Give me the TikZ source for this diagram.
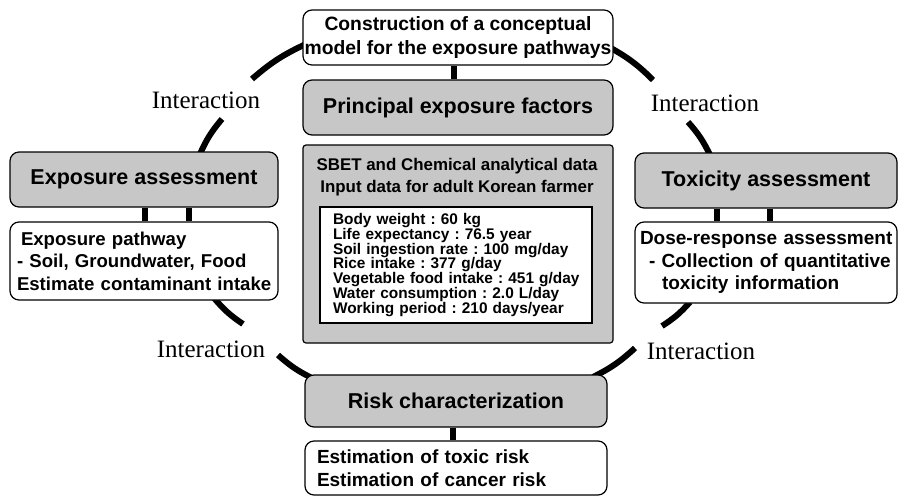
\documentclass[tikz,border=0pt]{standalone}
\usepackage{fontspec}
\setmainfont{Liberation Sans}
\newfontfamily\interfont{Liberation Serif}
\usetikzlibrary{calc}
\frenchspacing
\begin{document}
\begin{tikzpicture}[x=1pt,y=-1pt,
  box/.style={draw=black, line width=1.2pt, rounded corners=9pt, fill=white, inner sep=0pt},
  graybox/.style={box, fill=black!22},
  ttl/.style={font=\fontsize{21.5}{25}\selectfont\bfseries},
  body/.style={font=\fontsize{19}{22.5}\selectfont\bfseries},
  ring/.style={line width=6pt},
  link/.style={line width=6pt},
  inter/.style={font=\interfont\fontsize{25}{28}\selectfont, inner sep=0pt}]
\useasboundingbox (0,0) rectangle (899,496);

% ring segments
\coordinate (r1a) at (306,44);  \coordinate (r1b) at (252,79);
\coordinate (r2a) at (222,119); \coordinate (r2b) at (200,154);
\coordinate (r3a) at (214,298); \coordinate (r3b) at (243,324);
\coordinate (r4a) at (278,355); \coordinate (r4b) at (314,379);
\coordinate (r5a) at (593,377); \coordinate (r5b) at (635,348);
\coordinate (r6a) at (662,326); \coordinate (r6b) at (690,302);
\coordinate (r7a) at (710,155); \coordinate (r7b) at (688,122);
\coordinate (r8a) at (653,80);  \coordinate (r8b) at (609,47);
\draw[ring] (r1a) to[bend right=8] (r1b);
\draw[ring] (r2a) to[bend right=8] (r2b);
\draw[ring] (r3a) to[bend right=8] (r3b);
\draw[ring] (r4a) to[bend right=8] (r4b);
\draw[ring] (r5a) to[bend right=8] (r5b);
\draw[ring] (r6a) to[bend right=8] (r6b);
\draw[ring] (r7a) to[bend right=8] (r7b);
\draw[ring] (r8a) to[bend right=8] (r8b);

% centre column
\node[box, minimum width=310pt, minimum height=55pt, align=center,
      font=\fontsize{19.3}{23.5}\selectfont\bfseries] (model) at (458,37.5)
  {Construction of a conceptual\\model for the exposure pathways};
\node[graybox, minimum width=310pt, minimum height=55pt, ttl] (factors) at (458,107.5)
  {Principal exposure factors};
\node[graybox, rounded corners=3pt, minimum width=310pt, minimum height=198pt] (sbet) at (458,244) {};
\node[inner sep=0pt, align=center, font=\fontsize{16.9}{22}\selectfont\bfseries] (sbettxt) at (457,177)
  {SBET and Chemical analytical data\\Input data for adult Korean farmer};
\node[draw=black, line width=1.2pt, fill=white, inner sep=0pt, minimum width=272pt, minimum height=116pt,
      text width=266pt, align=left, font=\fontsize{15.4}{14.8}\selectfont\bfseries] (data) at (456,265)
  {\hspace*{10pt}Body weight : 60 kg\\
   \hspace*{10pt}Life expectancy : 76.5 year\\
   \hspace*{10pt}Soil ingestion rate : 100 mg/day\\
   \hspace*{10pt}Rice intake : 377 g/day\\
   \hspace*{10pt}\mbox{Vegetable food intake : 451 g/day}\\
   \hspace*{10pt}Water consumption : 2.0 L/day\\
   \hspace*{10pt}Working period : 210 days/year};

% left column
\node[graybox, minimum width=268pt, minimum height=55pt, ttl] (expo) at (144,179.5)
  {Exposure assessment};
\node[box, minimum width=268pt, minimum height=78pt, text width=266pt, align=left,
      font=\fontsize{18.6}{22.5}\selectfont\bfseries] (expolow) at (144,261)
  {\hspace*{10pt}Exposure pathway\\
   \hspace*{6pt}- Soil, Groundwater, Food\\
   \hspace*{6pt}\mbox{Estimate contaminant intake}};

% right column
\node[graybox, minimum width=262pt, minimum height=55pt, ttl] (tox) at (766,180.5)
  {Toxicity assessment};
\node[box, minimum width=262pt, minimum height=81pt, text width=256pt, align=left, body] (toxlow) at (766,262.5)
  {\hspace*{2pt}Dose-response assessment\\
   \hspace*{11pt}- Collection of quantitative\\
   \hspace*{24pt}toxicity information};

% bottom column
\node[graybox, minimum width=302pt, minimum height=52pt, ttl] (risk) at (456,401)
  {Risk characterization};
\node[box, minimum width=302pt, minimum height=54pt, text width=278pt, align=left, body] (risklow) at (456,468)
  {Estimation of toxic risk\\Estimation of cancer risk};

% short links between paired boxes
\draw[link] ([xshift=-4pt]model.south) -- ([xshift=-4pt]model.south |- factors.north);
\draw[link] ([xshift=1pt]expo.south) -- ([xshift=1pt]expo.south |- expolow.north);
\draw[link] ([xshift=45pt]expo.south) -- ([xshift=45pt]expo.south |- expolow.north);
\draw[link] ([xshift=-49pt]tox.south) -- ([xshift=-49pt]tox.south |- toxlow.north);
\draw[link] ([xshift=4pt]tox.south) -- ([xshift=4pt]tox.south |- toxlow.north);
\draw[link] ([xshift=-3pt]risk.south) -- ([xshift=-3pt]risk.south |- risklow.north);

% interaction labels
\node[inter] (i1) at (206,100) {Interaction};
\node[inter] (i2) at (705,103) {Interaction};
\node[inter] (i3) at (211,349) {Interaction};
\node[inter] (i4) at (701,351) {Interaction};
\end{tikzpicture}
\end{document}
